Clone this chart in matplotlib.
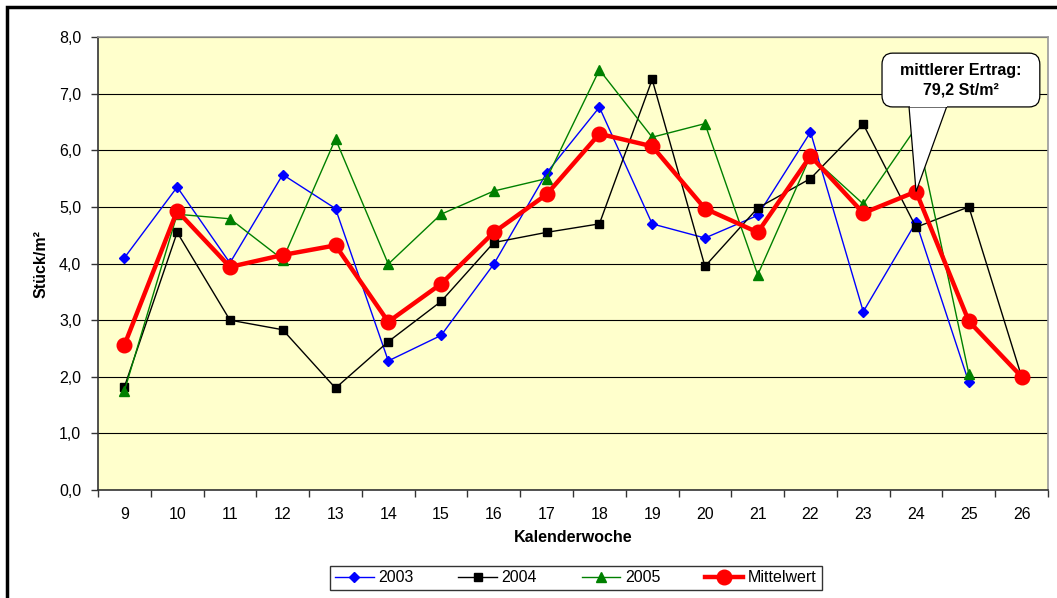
import matplotlib
matplotlib.use("Agg")
import matplotlib.pyplot as plt
from matplotlib.patches import Rectangle, FancyBboxPatch, Polygon
from matplotlib.ticker import FuncFormatter, FixedLocator

plt.rcParams.update({
    "font.family": ["Liberation Sans", "DejaVu Sans"],
    "font.size": 11.5,
})

weeks = list(range(9, 27))
y2003 = [4.10, 5.35, 4.01, 5.57, 4.97, 2.28, 2.73, 3.99, 5.60, 6.76, 4.70, 4.45, 4.85, 6.32, 3.15, 4.73, 1.90, None]
y2004 = [1.82, 4.55, 3.00, 2.83, 1.80, 2.62, 3.33, 4.37, 4.55, 4.70, 7.25, 3.95, 4.98, 5.50, 6.46, 4.64, 5.00, 2.00]
y2005 = [1.75, 4.87, 4.79, 4.07, 6.20, 3.99, 4.87, 5.28, 5.50, 7.42, 6.23, 6.47, 3.80, 5.90, 5.05, 6.40, 2.05, None]
mittel = [2.56, 4.93, 3.94, 4.15, 4.32, 2.97, 3.64, 4.55, 5.22, 6.29, 6.07, 4.97, 4.55, 5.90, 4.89, 5.27, 2.98, 2.00]
callout_week = 24
callout_text = "mittlerer Ertrag:\n79,2 St/m²"


def clean(vals):
    return [float("nan") if v is None else v for v in vals]


fig = plt.figure(figsize=(10.57, 5.98), dpi=100)
ax = fig.add_axes([98 / 1057, 1 - 490 / 598, 950 / 1057, 453 / 598])
ax.set_facecolor("#FFFFCC")

# outer chart frame (right/bottom edges cut off as in the original)
fig.patches.append(Rectangle((7 / 1057, -0.05), 1.2, 1 - 7 / 598 + 0.05,
                             transform=fig.transFigure, fill=False,
                             edgecolor="black", linewidth=2.5))

ax.plot(weeks, clean(y2003), "-D", color="#0000FF", lw=1.0, ms=5.5, label="2003", zorder=3)
ax.plot(weeks, clean(y2004), "-s", color="black", lw=1.0, ms=6, label="2004", zorder=3)
ax.plot(weeks, clean(y2005), "-^", color="#008000", lw=1.0, ms=6.5, label="2005", zorder=3)
ax.plot(weeks, mittel, "-o", color="#FF0000", lw=3.2, ms=10.5, label="Mittelwert", zorder=4)

ax.set_xlim(8.5, 26.5)
ax.set_ylim(0, 8)
ax.set_xticks(weeks)
ax.set_xticklabels([str(w) for w in weeks])
ax.tick_params(axis="x", which="major", length=0, pad=12)
ax.xaxis.set_minor_locator(FixedLocator([w + 0.5 for w in range(8, 27)]))
ax.tick_params(axis="x", which="minor", length=5, width=1, color="#333333", direction="out")
ax.set_yticks(range(0, 9))
ax.yaxis.set_major_formatter(FuncFormatter(lambda v, _: f"{v:.1f}".replace(".", ",")))
ax.tick_params(axis="y", length=5, width=1, color="#333333", pad=7)
ax.grid(True, axis="y", color="black", lw=0.8, zorder=1)
ax.set_axisbelow(True)

for side in ("top", "right"):
    ax.spines[side].set_color("#999999")
    ax.spines[side].set_linewidth(1.2)
for side in ("left", "bottom"):
    ax.spines[side].set_color("#333333")
    ax.spines[side].set_linewidth(1.2)

ax.set_xlabel("Kalenderwoche", fontweight="bold", fontsize=11.5, labelpad=6)
ax.set_ylabel("Stück/m²", fontweight="bold", fontsize=11.5)
ax.yaxis.set_label_coords(-49 / 950, 0.5)

# callout bubble pointing at the mean value of week 24
idx = weeks.index(callout_week)
cx, cy, bw, bh = 24.85, 7.24, 2.99, 0.95
wedge = Polygon([(23.86, cy - bh / 2 + 0.08), (24.61, cy - bh / 2 + 0.08),
                 (callout_week, mittel[idx])], closed=True,
                fc="white", ec="black", lw=0.9, zorder=6)
ax.add_patch(wedge)
box = FancyBboxPatch((cx - bw / 2, cy - bh / 2), bw, bh,
                     boxstyle="round,pad=0,rounding_size=0.2",
                     fc="white", ec="black", lw=0.9, zorder=7)
ax.add_patch(box)
# hide wedge/box seam
ax.add_patch(Rectangle((23.88, cy - bh / 2 - 0.005), 0.71, 0.12,
                       fc="white", ec="none", zorder=8))
ax.text(cx, cy, callout_text, ha="center", va="center", fontsize=11.5,
        fontweight="bold", linespacing=1.35, zorder=9)

fig.legend(loc="center", bbox_to_anchor=(576 / 1057, 1 - 578 / 598), ncol=4,
           frameon=True, fancybox=False, edgecolor="black", fontsize=11.5,
           handlelength=2.4, handletextpad=0.3, columnspacing=2.8, borderpad=0.3)

fig.savefig("out.png", dpi=100)
